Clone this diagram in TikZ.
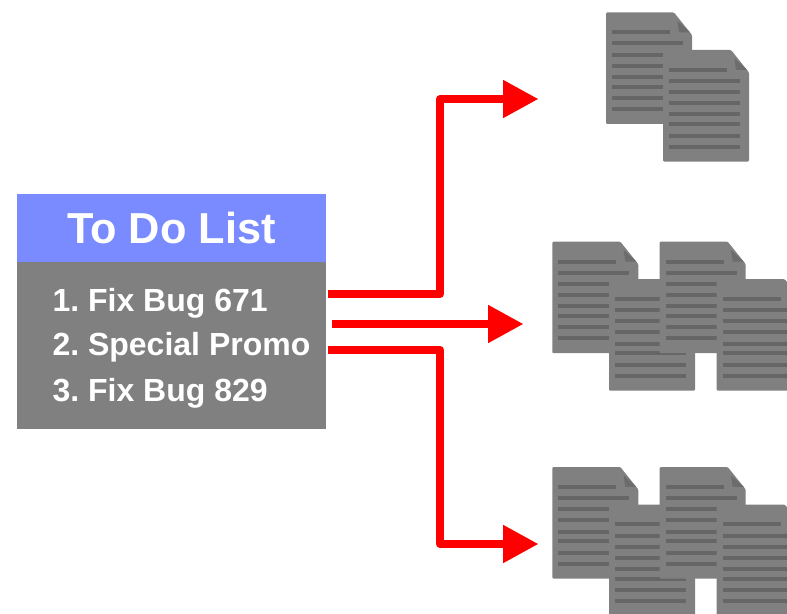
\documentclass[tikz,border=0pt]{standalone}
\usepackage{fontspec}
\setmainfont{Liberation Sans}
\usetikzlibrary{arrows.meta}
\frenchspacing

\definecolor{titleblue}{RGB}{121,139,255}
\definecolor{sheetgrey}{RGB}{128,128,128}
\definecolor{rulegrey}{RGB}{102,102,102}
\definecolor{foldgrey}{RGB}{108,108,108}

\tikzset{every picture/.style={line width=0.75pt}}
\tikzset{
	titlebox/.style={fill=titleblue,text=white,inner sep=0pt,minimum width=231.75pt,minimum height=51pt,font=\bfseries\fontsize{32.5}{36}\selectfont},
	listbox/.style={fill=sheetgrey,inner sep=0pt,minimum width=231.75pt,minimum height=125.25pt},
	listitem/.style={anchor=base west,text=white,inner sep=0pt,font=\bfseries\fontsize{24}{28}\selectfont},
	redarrow/.style={draw=red,line width=6pt,line join=round,-{Triangle[length=26.6pt,width=27pt]}}
}

\newcommand{\docsheet}[2]{
	\begin{scope}[shift={(#1,#2)}]
		\fill [sheetgrey,rounded corners=0.8pt] (0,0) -- (68,0) -- (86,22.5) -- (86,111.5) -- (0,111.5) -- cycle ;
		\fill [foldgrey] (71.3,8.2) -- (84,19.8) -- (73,19.8) -- cycle ;
		\foreach \ruley/\ruleend in {19.8/64,31/77,42.2/77,53.2/77,64.5/77,74.2/77,85.5/77,96.6/77}
			\draw [rulegrey,line width=3pt] (6,\ruley) -- (\ruleend,\ruley) ;
	\end{scope}
}

\begin{document}
\begin{tikzpicture}[x=0.75pt,y=0.75pt,yscale=-1,xscale=1]
	\path [use as bounding box,clip] (0,0) rectangle (787,613);

	%Shape: Box
	\node [titlebox] (title) at (171.5,228) {To Do List};
	\node [listbox] (list) at (171.5,345.5) {};

	% Text Node
	\node [listitem] (itemone) at (52,311) {1. Fix Bug 671};
	\node [listitem] (itemtwo) at (52,355.5) {2. Special Promo};
	\node [listitem] (itemthree) at (52,401.5) {3. Fix Bug 829};

	%Shape: Documents
	\docsheet{606}{12.5}
	\docsheet{663}{50}
	\foreach \groupy in {241.7,467} {
		\docsheet{552.3}{\groupy}
		\docsheet{609}{\groupy+37.5}
		\docsheet{659.7}{\groupy}
		\docsheet{716.7}{\groupy+37.5}
	}

	%Straight Lines
	\coordinate (startone) at (328,294);
	\coordinate (bendone) at (440,99);
	\coordinate (tipone) at (538.5,99);
	\coordinate (starttwo) at (331.5,324);
	\coordinate (tiptwo) at (523.5,324);
	\coordinate (startthree) at (328,349.7);
	\coordinate (bendthree) at (440,544);
	\coordinate (tipthree) at (538.5,544);
	\draw [redarrow] (startone) -| (bendone) -- (tipone) ;
	\draw [redarrow] (starttwo) -- (tiptwo) ;
	\draw [redarrow] (startthree) -| (bendthree) -- (tipthree) ;
\end{tikzpicture}
\end{document}
